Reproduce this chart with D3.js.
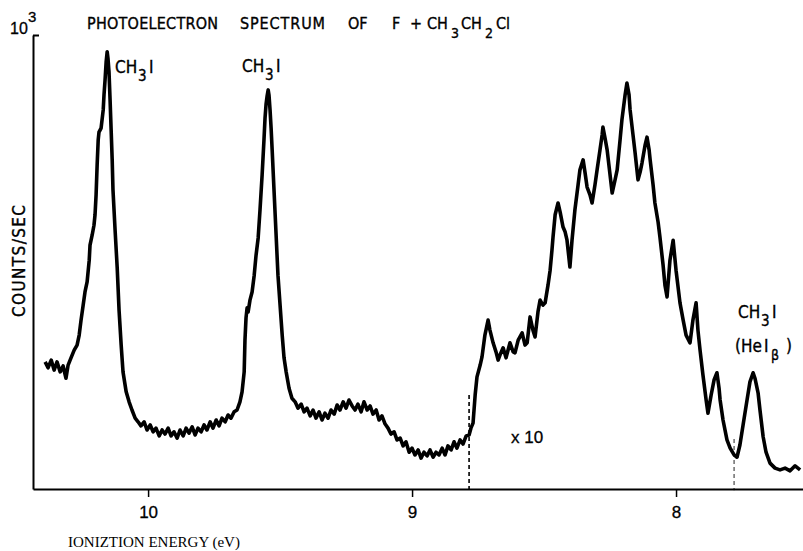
<!DOCTYPE html>
<html><head><meta charset="utf-8">
<script src="https://cdn.jsdelivr.net/npm/d3@7"></script>
<style>body{margin:0;background:#fff}svg{display:block}</style></head>
<body>
<svg id="c" width="803" height="551"></svg>
<script>
// Ionization energy (eV) of each sampled point of the trace
const energy=[10.390,10.379,10.367,10.356,10.345,10.333,10.322,10.311,10.303,10.292,10.280,10.269,10.261,10.254,10.246,10.239,10.231,10.223,10.220,10.212,10.205,10.201,10.197,10.193,10.189,10.186,
10.178,10.170,10.167,10.163,10.159,10.155,10.152,10.148,10.144,10.140,10.136,10.133,10.125,10.117,10.110,10.102,10.095,10.083,10.072,
10.061,10.049,10.038,10.027,10.015,10.004,9.992,9.981,9.970,9.958,9.947,9.936,9.924,9.913,9.902,9.890,9.879,9.867,9.856,9.845,9.833,9.822,9.811,9.799,9.788,9.777,9.765,9.754,9.742,9.731,9.720,9.708,9.697,9.686,9.674,9.663,9.652,
9.644,9.636,9.633,9.629,9.625,9.621,9.614,9.606,9.598,9.591,9.583,9.576,9.568,9.561,9.557,9.553,9.549,9.545,9.542,9.538,9.534,9.530,9.523,9.515,9.508,9.500,9.492,9.485,9.477,
9.466,9.455,9.443,9.432,9.420,9.409,9.398,9.386,9.375,9.364,9.352,9.341,9.330,9.318,9.307,9.295,9.284,9.273,9.261,9.250,9.239,9.227,9.216,9.205,9.193,9.182,9.170,9.159,9.148,9.136,9.125,9.114,9.102,9.091,9.080,9.068,9.057,9.045,9.034,9.023,9.011,9.000,8.989,8.977,8.966,8.955,8.943,8.932,8.920,8.909,8.898,8.886,8.875,8.864,8.852,8.841,8.830,8.818,8.807,8.795,8.784,
8.777,8.769,8.761,8.754,8.742,8.735,8.724,8.712,8.705,8.693,8.682,8.674,8.667,8.655,8.644,8.629,8.617,8.610,8.598,8.583,8.572,8.564,8.553,8.542,8.534,8.523,8.515,8.504,8.496,8.485,8.477,8.470,8.466,8.458,8.447,8.439,8.428,8.420,8.413,8.402,8.394,8.383,8.371,8.364,8.352,8.345,8.337,8.326,8.318,8.307,8.299,8.288,8.280,8.277,8.269,8.261,8.250,8.242,8.231,8.223,8.212,8.205,8.193,8.186,8.178,8.174,8.163,8.155,8.144,8.136,8.129,8.117,8.110,8.102,8.098,8.087,8.080,8.068,8.061,8.049,8.042,8.034,8.023,8.011,8.000,7.985,7.973,7.962,7.947,7.936,7.924,7.917,7.909,7.898,7.886,7.879,7.867,7.856,7.845,7.837,7.833,7.822,7.807,7.795,7.780,7.769,7.758,7.746,7.731,7.720,7.708,7.701,7.689,7.682,7.670,7.659,7.644,7.625,7.606,7.587,7.568,7.549,7.530];
// Counts/sec at each energy
const counts=[280,267,284,262,280,258,271,244,273,289,306,317,339,372,405,434,456,504,537,559,581,604,648,714,769,786,
795,835,868,901,940,963,949,918,857,791,725,659,570,487,394,317,258,214,192,
174,156,148,139,148,130,141,126,134,117,130,121,134,117,126,112,130,117,134,123,137,119,134,126,141,130,148,134,152,139,156,148,163,156,170,174,192,
214,258,328,377,399,390,416,434,471,515,553,615,692,769,817,848,866,879,868,835,795,747,659,559,471,405,339,289,258,
222,200,192,178,187,170,178,161,174,156,170,152,167,156,174,165,185,174,192,178,196,183,174,187,170,192,174,183,165,174,152,161,143,134,121,126,108,112,95,104,81,90,75,86,68,81,73,86,70,81,75,90,75,95,86,104,90,108,99,117,119,
134,145,207,247,273,291,339,372,350,322,302,284,295,311,289,322,302,300,328,344,317,322,379,350,335,390,416,405,410,449,482,526,555,604,630,610,577,566,548,489,548,615,670,703,725,698,665,648,630,670,703,747,780,797,773,747,692,652,681,703,769,813,868,894,868,835,780,740,681,698,718,758,775,747,725,670,630,588,555,493,449,423,504,548,482,410,372,339,322,372,410,350,306,251,196,167,207,240,256,222,196,152,108,90,75,70,97,141,196,236,256,244,211,174,115,81,57,46,42,46,40,51,42];
const xTicks=[10,9,8];
const yTicks=[1000];
// dashed splice markers: energy and top count
const markerEnergy=[8.784,7.780];
const markerTop=[207,110];

const svg=d3.select("#c");
const x=d3.scaleLinear().domain([10.436,7.519]).range([33,803]);
const y=d3.scaleLinear().domain([0,1000]).range([489,35]);
const DIN='"DejaVu Sans Condensed","DejaVu Sans",sans-serif';
const ARIAL='"Liberation Sans",Arial,sans-serif';

// markers
markerEnergy.forEach((e,i)=>{
  svg.append("line").attr("x1",x(e)).attr("x2",x(e)).attr("y1",y(markerTop[i])).attr("y2",y(-3))
    .attr("stroke",i===0?"#000":"#777").attr("stroke-width",1.6).attr("stroke-dasharray","4,3");
});

// trace
const pts=d3.zip(energy,counts);
svg.append("path").datum(pts)
  .attr("d",d3.line().x(d=>x(d[0])).y(d=>y(d[1])))
  .attr("fill","none").attr("stroke","#000").attr("stroke-width",3.6)
  .attr("stroke-linejoin","round");

// x axis
const gx=svg.append("g").attr("transform",`translate(0,${y(0)})`)
  .call(d3.axisBottom(x).tickValues(xTicks).tickSize(8).tickSizeOuter(0).tickFormat(d3.format("d")));
gx.select(".domain").attr("stroke-width",2);
gx.selectAll(".tick line").attr("stroke-width",1.5);
gx.selectAll(".tick text").attr("font-family",ARIAL).attr("font-size",17).attr("dy","1.05em")
  .attr("fill","#000").attr("stroke","#000").attr("stroke-width",0.3);

// y axis
const gy=svg.append("g").attr("transform",`translate(${x(10.436)},0)`)
  .call(d3.axisLeft(y).tickValues(yTicks).tickSize(-6).tickSizeOuter(0).tickFormat(""));
gy.select(".domain").attr("stroke-width",2);
gy.selectAll(".tick line").attr("stroke-width",2);

// 10^3
const p=svg.append("text").attr("font-family",ARIAL).attr("font-size",16).attr("fill","#000").attr("stroke","#000").attr("stroke-width",0.3);
p.append("tspan").attr("x",10).attr("y",34).text("10");
p.append("tspan").attr("x",28).attr("y",22).attr("font-size",15).text("3");

function boldish(sel){return sel.attr("fill","#000").attr("stroke","#000").attr("stroke-width",0.35);}

// title
const t=boldish(svg.append("text").attr("font-family",DIN).attr("font-size",16).attr("y",29));
t.append("tspan").attr("x",87).attr("textLength",131).text("PHOTOELECTRON");
t.append("tspan").attr("x",240).attr("textLength",85).text("SPECTRUM");
t.append("tspan").attr("x",348).text("OF");
t.append("tspan").attr("x",392).text("F");
t.append("tspan").attr("x",410).text("+");
t.append("tspan").attr("x",427).text("CH");
t.append("tspan").attr("x",451).attr("y",38).attr("font-size",14).text("3");
t.append("tspan").attr("x",461).attr("y",29).text("CH");
t.append("tspan").attr("x",485).attr("y",38).attr("font-size",14).text("2");
t.append("tspan").attr("x",496).attr("y",29).text("Cl");

function ch3i(x0,yb){
  const g=boldish(svg.append("text").attr("font-family",DIN).attr("font-size",17));
  g.append("tspan").attr("x",x0).attr("y",yb).text("CH");
  g.append("tspan").attr("x",x0+23).attr("y",yb+8).attr("font-size",15).text("3");
  g.append("tspan").attr("x",x0+34).attr("y",yb).text("I");
}
ch3i(115,73);
ch3i(242,72);
ch3i(738,318);
const hb=boldish(svg.append("text").attr("font-family",DIN).attr("font-size",17));
hb.append("tspan").attr("x",735).attr("y",352).text("(He");
hb.append("tspan").attr("x",764).attr("y",352).text("I");
hb.append("tspan").attr("x",771).attr("y",360).attr("font-size",14).text("β");
hb.append("tspan").attr("x",786).attr("y",352).text(")");

// x10
boldish(svg.append("text").attr("x",511).attr("y",443).attr("font-family",ARIAL).attr("font-size",17)).attr("stroke-width",0.3).text("x 10");

// y label
boldish(svg.append("text").attr("transform","translate(25,261) rotate(-90)").attr("text-anchor","middle")
  .attr("font-family",DIN).attr("font-size",17).attr("textLength",112)).text("COUNTS/SEC");

// x label
svg.append("text").attr("x",68).attr("y",547).attr("font-family",'"Liberation Serif","Times New Roman",serif')
  .attr("font-size",15).attr("fill","#000").text("IONIZTION ENERGY (eV)");
</script>
</body></html>
